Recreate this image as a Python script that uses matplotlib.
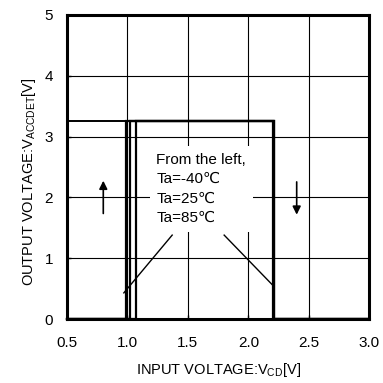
import matplotlib
matplotlib.use("Agg")
import matplotlib.pyplot as plt

plt.rcParams['font.family'] = ['Liberation Sans', 'DejaVu Sans']

# Data
rise_x = [0.99, 1.02, 1.07]      # Ta=-40, 25, 85 C rising threshold
fall_x = [2.205, 2.21, 2.215]    # falling threshold
v_high = 3.25
x_min, x_max = 0.5, 3.0
x_ticks = [0.5, 1.0, 1.5, 2.0, 2.5, 3.0]
x_tick_labels = ["0.5", "1.0", "1.5", "2.0", "2.5", "3.0"]
y_ticks = [0, 1, 2, 3, 4, 5]

fig = plt.figure(figsize=(3.83, 3.83), dpi=100)
ax = fig.add_axes([0.175, 0.167, 0.789, 0.794])
ax.set_xlim(x_min, x_max)
ax.set_ylim(0, 5)
ax.set_xticks(x_ticks)
ax.set_xticklabels(x_tick_labels)
ax.set_yticks(y_ticks)
ax.grid(True, color='black', linewidth=0.8)
ax.set_axisbelow(True)
ax.tick_params(axis='x', direction='in', length=3, width=1, labelsize=11, pad=12)
ax.tick_params(axis='y', direction='in', length=3, width=1, labelsize=11, pad=10)
for s in ax.spines.values():
    s.set_linewidth(2.2)

# top-left segment of hysteresis
ax.plot([x_min, min(rise_x)], [v_high, v_high], color='black', lw=1.4, clip_on=False, zorder=3)
for r, f in zip(rise_x, fall_x):
    ax.plot([x_min, r, r, f, f, x_max], [0, 0, v_high, v_high, 0, 0],
            color='black', lw=1.6, clip_on=False, zorder=3, solid_joinstyle='miter')

# label box
ax.text(1.24, 2.14, "From the left,\nTa=-40\u2103\nTa=25\u2103\nTa=85\u2103",
        fontsize=11, ha='left', va='center', linespacing=1.5, zorder=5,
        bbox=dict(facecolor='white', edgecolor='none', pad=5))

# leader lines
ax.plot([0.97, 1.37], [0.43, 1.38], color='black', lw=1, zorder=4)
ax.plot([1.80, 2.20], [1.38, 0.56], color='black', lw=1, zorder=4)

# arrows
ax.annotate("", xy=(0.80, 2.32), xytext=(0.80, 1.69),
            arrowprops=dict(arrowstyle='-|>', color='black', lw=1.2, mutation_scale=12))
ax.annotate("", xy=(2.40, 1.67), xytext=(2.40, 2.30),
            arrowprops=dict(arrowstyle='-|>', color='black', lw=1.2, mutation_scale=12))

ax.set_xlabel("INPUT VOLTAGE:V$_{\\mathregular{CD}}$[V]", fontsize=10.5, labelpad=8)
ax.set_ylabel("OUTPUT VOLTAGE:V$_{\\mathregular{ACCDET}}$[V]", fontsize=10.5)
ax.yaxis.set_label_coords(-0.095, 0.45)

fig.savefig("out.png", dpi=100)
